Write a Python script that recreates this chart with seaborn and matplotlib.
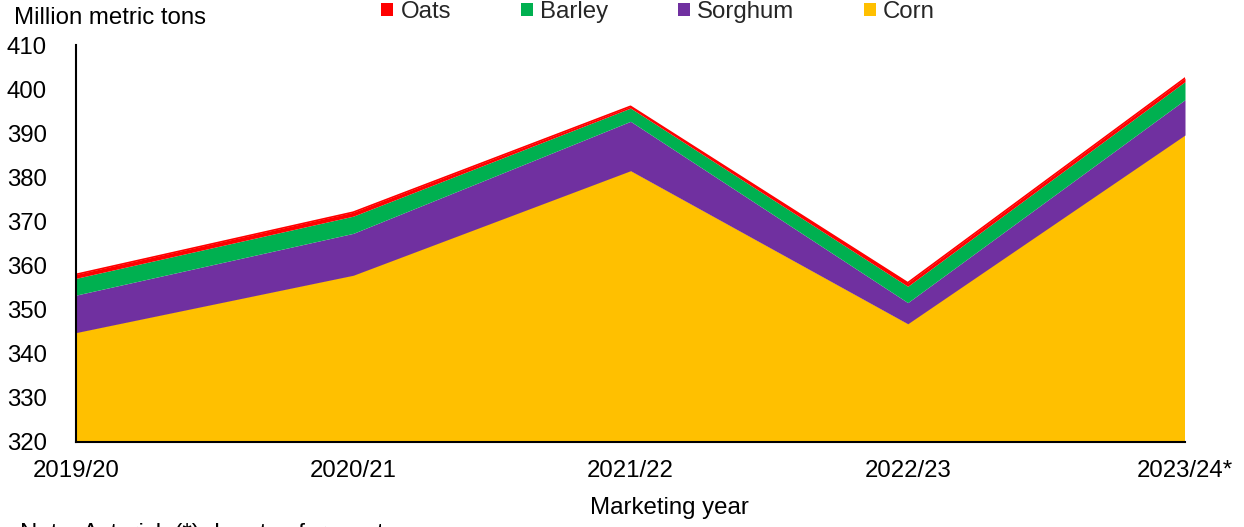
import matplotlib
matplotlib.use("Agg")
import matplotlib.pyplot as plt
from matplotlib.patches import Patch
import seaborn as sns

years = ["2019/20", "2020/21", "2021/22", "2022/23", "2023/24*"]
corn = [344.8, 357.8, 381.5, 346.8, 389.6]
sorghum = [8.5, 9.5, 11.2, 4.8, 8.0]
barley = [3.8, 3.9, 3.0, 3.7, 4.1]
oats = [0.9, 0.9, 0.4, 0.8, 0.8]

series_names = ["Corn", "Sorghum", "Barley", "Oats"]
series_colors = ["#FFC000", "#7030A0", "#00B050", "#FF0000"]
y_ticks = list(range(320, 411, 10))

FS = 17.3

sns.set_theme(style="white")
plt.rcParams["font.family"] = ["Liberation Sans", "DejaVu Sans"]

fig = plt.figure(figsize=(12.44, 5.27), dpi=100)
ax = fig.add_axes([76 / 1244, 1 - 442 / 527, (1185 - 76) / 1244, (442 - 45) / 527])

x = list(range(len(years)))
ax.stackplot(x, corn, sorghum, barley, oats, colors=series_colors,
             linewidth=0, baseline="zero")
# Thin red edge along the total (oats layer top)
tops = [c + s + b + o for c, s, b, o in zip(corn, sorghum, barley, oats)]
ax.plot(x, tops, color="#FF0000", lw=1.2)

ax.set_xlim(0, len(years) - 1)
ax.set_ylim(320, 410)
ax.set_yticks(y_ticks)
ax.set_xticks(x)
ax.set_xticklabels(years)
ax.tick_params(axis="both", length=0, labelsize=FS, colors="black")
ax.tick_params(axis="y", pad=21)
ax.tick_params(axis="x", pad=13)

for side in ["top", "right"]:
    ax.spines[side].set_visible(False)
for side in ["left", "bottom"]:
    ax.spines[side].set_color("black")
    ax.spines[side].set_linewidth(1.5)
ax.set_facecolor("white")
ax.grid(False)

fig.text(14 / 1244, 1 - 18 / 527, "Million metric tons", fontsize=FS,
         ha="left", va="center", color="black")
fig.text(669 / 1244, 1 - 508 / 527, "Marketing year", fontsize=FS,
         ha="center", va="center", color="black")
fig.text(20 / 1244, 1 - 540 / 527, "Note: Asterisk (*) denotes forecast.",
         fontsize=FS, ha="left", va="baseline", color="black")

handles = [Patch(facecolor=series_colors[i], edgecolor="none") for i in [3, 2, 1, 0]]
labels = [series_names[i] for i in [3, 2, 1, 0]]
fig.legend(handles, labels, loc="center", bbox_to_anchor=(658 / 1244, 1 - 12 / 527),
           ncol=4, frameon=False, fontsize=FS, handlelength=0.5, handleheight=0.5,
           handletextpad=0.3, columnspacing=2.9, borderaxespad=0, borderpad=0)

fig.savefig("out.png", dpi=100, facecolor="white")
